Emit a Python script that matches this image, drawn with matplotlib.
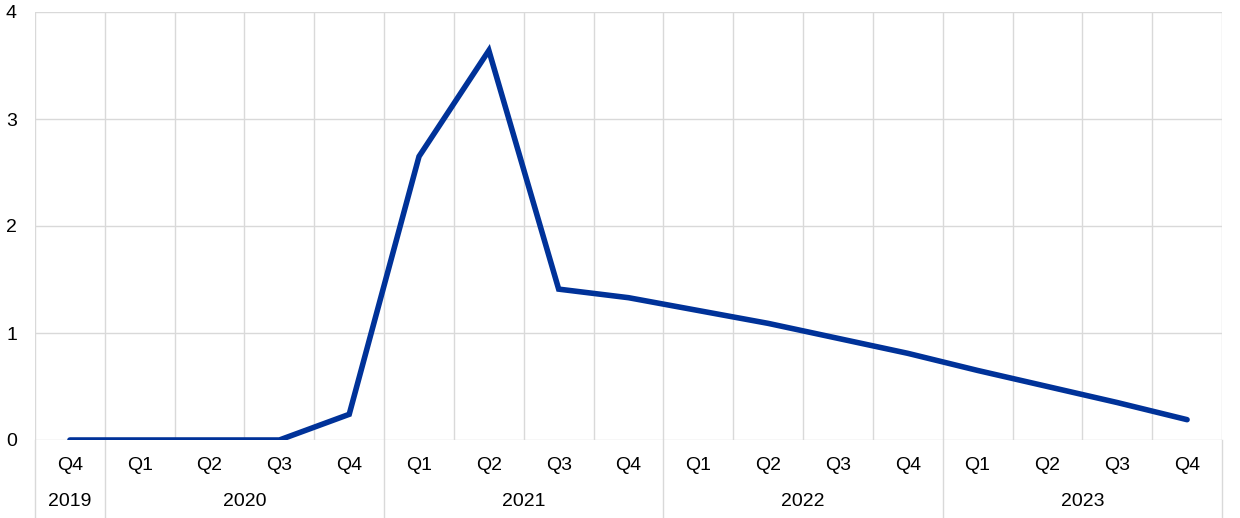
import matplotlib
matplotlib.use("Agg")
import matplotlib.pyplot as plt

plt.rcParams['font.family'] = ['Liberation Sans', 'DejaVu Sans']

quarters = ["Q4", "Q1", "Q2", "Q3", "Q4", "Q1", "Q2", "Q3", "Q4",
            "Q1", "Q2", "Q3", "Q4", "Q1", "Q2", "Q3", "Q4"]
years = ["2019", "2020", "2021", "2022", "2023"]
year_counts = [1, 4, 4, 4, 4]
values = [0.0, 0.0, 0.0, 0.0, 0.24, 2.65, 3.64, 1.41, 1.33,
          1.21, 1.09, 0.95, 0.81, 0.65, 0.50, 0.35, 0.19]
y_ticks = [0, 1, 2, 3, 4]

fs = 14

fig = plt.figure(figsize=(12.4, 5.18), dpi=100)
ax = fig.add_axes([35/1240, 78/518, (1222-35)/1240, (440-12)/518])

n = len(values)
x = list(range(n))
grid_color = "#d9d9d9"

ax.set_xlim(-0.5, n - 0.5)
ax.set_ylim(0, 4)

for yt in y_ticks:
    ax.axhline(yt, color=grid_color, lw=1, zorder=1)
for i in range(n + 1):
    ax.axvline(i - 0.5, color=grid_color, lw=1, zorder=1)

ax.plot(x, values, color="#003299", lw=4, solid_capstyle="round",
        solid_joinstyle="miter", zorder=3)

for s in ax.spines.values():
    s.set_visible(False)

ax.set_yticks(y_ticks)
ax.set_yticklabels([str(v) for v in y_ticks], fontsize=fs)
ax.set_xticks(x)
ax.set_xticklabels(quarters, fontsize=fs)
ax.tick_params(axis='both', length=0)
ax.tick_params(axis='x', pad=12)
ax.tick_params(axis='y', pad=13)

# year labels and separators
trans = ax.get_xaxis_transform()
ext = 78/428
pos = -0.5
ax.plot([pos, pos], [0, -ext], transform=trans, color=grid_color, lw=1, clip_on=False)
for yr, c in zip(years, year_counts):
    center = pos + c / 2
    ax.text(center, -62/428, yr, transform=trans, ha="center", va="center", fontsize=fs)
    pos += c
    ax.plot([pos, pos], [0, -ext], transform=trans, color=grid_color, lw=1, clip_on=False)

fig.savefig("out.png", dpi=100)
